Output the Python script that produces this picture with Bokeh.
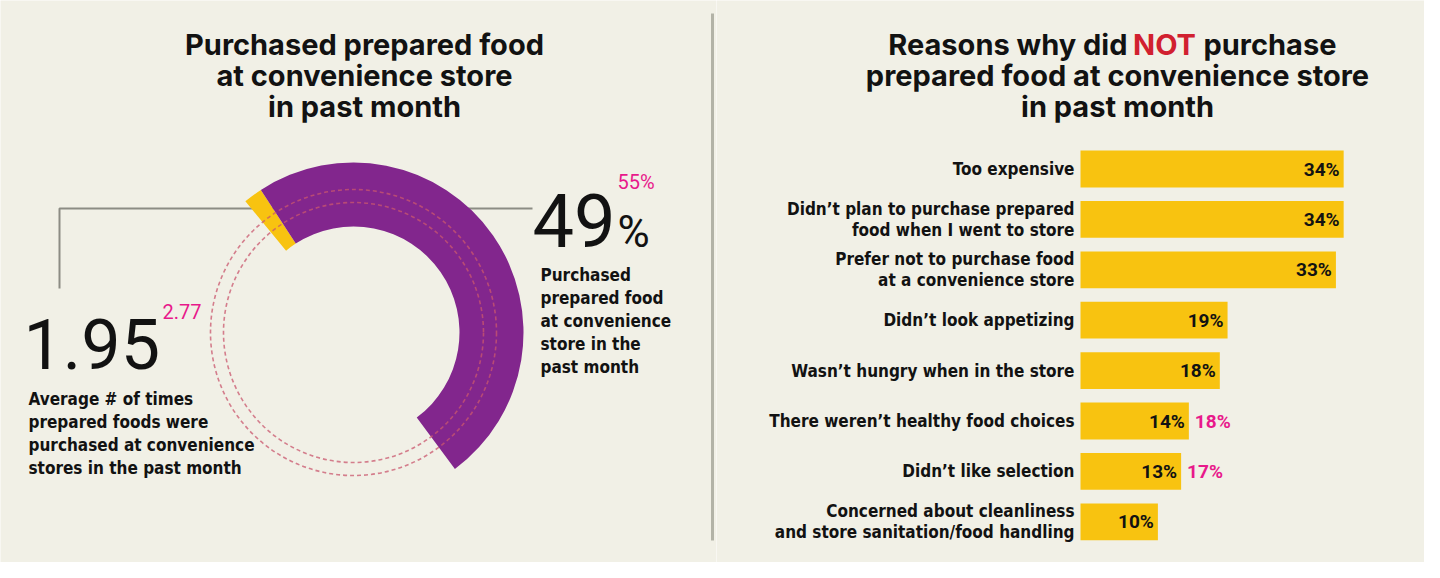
import math
from bokeh.plotting import figure
from bokeh.models import Range1d, ColumnDataSource
from bokeh.layouts import row
from bokeh.core.properties import value
from bokeh.embed import file_html
from bokeh.resources import INLINE

# ---------------- data ----------------
purchased_pct = 49
purchased_pct_prev = 55
other_pct = 1.8          # small yellow segment of the ring
avg_times = 1.95
avg_times_prev = 2.77

left_title = ["Purchased prepared food", "at convenience store", "in past month"]
pct_caption = ["Purchased", "prepared food", "at convenience", "store in the", "past month"]
avg_caption = ["Average # of times", "prepared foods were",
               "purchased at convenience", "stores in the past month"]

right_title_pre = "Reasons why did"
right_title_hl = "NOT"
right_title_post = "purchase"
right_title_rest = ["prepared food at convenience store", "in past month"]

reasons = [
    "Too expensive",
    "Didn’t plan to purchase prepared\nfood when I went to store",
    "Prefer not to purchase food\nat a convenience store",
    "Didn’t look appetizing",
    "Wasn’t hungry when in the store",
    "There weren’t healthy food choices",
    "Didn’t like selection",
    "Concerned about cleanliness\nand store sanitation/food handling",
]
reason_pct = [34, 34, 33, 19, 18, 14, 13, 10]
reason_pct_prev = [None, None, None, None, None, 18, 17, None]

# ---------------- style ----------------
BG = "#f1f0e6"
PURPLE = "#82268d"
YELLOW = "#f8c310"
PINK = "#e8198b"
RED = "#d1202f"
INK = "#121212"
GRAY = "#8c8c84"
COND = "DejaVu Sans Condensed, DejaVu Sans, sans-serif"
HEAVY = "Inter, Roboto, sans-serif"
NUMF = "Roboto, Liberation Sans, sans-serif"

H = 562
W_L = 716
W_R = 708


def base_fig(w, xr, yr):
    f = figure(width=w, height=H, x_range=xr, y_range=yr, output_backend="svg",
               toolbar_location=None, x_axis_location=None, y_axis_location=None,
               min_border=0, background_fill_color=BG, border_fill_color=BG,
               outline_line_color=None)
    f.xgrid.visible = False
    f.ygrid.visible = False
    return f


# ================= left panel (pixel-like coordinates) =================
L = base_fig(W_L, Range1d(0, W_L), Range1d(0, H))


def Y(py):
    return H - py


mid = dict(text_baseline="middle")

# title
L.text(x=[364] * len(left_title), y=[Y(44 + 31 * j) for j in range(len(left_title))],
       text=left_title, text_align="center", text_font=value(HEAVY), text_font_style="bold",
       text_font_size=value("29px"), text_color=INK, **mid)

# divider
L.line(x=[712, 712], y=[Y(13), Y(540)], line_color="#b3b3a7", line_width=3)

# connector line (behind ring)
L.line(x=[59, 59, 532], y=[Y(288), Y(208), Y(208)], line_color=GRAY, line_width=2)

# ring
cx, cy = 353, Y(332)
a0 = 129.5
a1 = a0 - other_pct * 3.6
a2 = a1 - purchased_pct * 3.6
L.annular_wedge(x=[cx], y=[cy], inner_radius=106, outer_radius=170,
                start_angle=math.radians(a0), end_angle=math.radians(a1),
                direction="clock", fill_color=YELLOW, line_color=None)
L.annular_wedge(x=[cx], y=[cy], inner_radius=106, outer_radius=170,
                start_angle=math.radians(a1), end_angle=math.radians(a2),
                direction="clock", fill_color=PURPLE, line_color=None)
L.circle(x=[cx, cx], y=[cy, cy], radius=[143, 130], fill_color=None,
         line_color="#c9576d", line_dash="4 3", line_width=1.6, line_alpha=0.75)

# 49 %
L.text(x=[532], y=[Y(220)], text=[f"{purchased_pct}"], text_align="left",
       text_font=value(NUMF), text_font_size=value("74px"), text_color=INK, **mid)
L.text(x=[617], y=[Y(231)], text=["%"], text_align="left",
       text_font=value(NUMF), text_font_size=value("44px"), text_color=INK, **mid)
L.text(x=[617], y=[Y(181)], text=[f"{purchased_pct_prev}%"], text_align="left",
       text_font=value(NUMF), text_font_size=value("20px"), text_color=PINK, **mid)
L.text(x=[540] * len(pct_caption), y=[Y(274 + 23 * j) for j in range(len(pct_caption))],
       text=pct_caption, text_align="left", text_font=value(COND), text_font_style="bold",
       text_font_size=value("17px"), text_color=INK, **mid)

# 1.95
L.text(x=[23], y=[Y(343)], text=[f"{avg_times:.2f}"], text_align="left",
       text_font=value(NUMF), text_font_size=value("70px"), text_color=INK, **mid)
L.text(x=[162], y=[Y(311)], text=[f"{avg_times_prev:.2f}"], text_align="left",
       text_font=value(NUMF), text_font_size=value("20px"), text_color=PINK, **mid)
L.text(x=[28] * len(avg_caption), y=[Y(398 + 23 * j) for j in range(len(avg_caption))],
       text=avg_caption, text_align="left", text_font=value(COND), text_font_style="bold",
       text_font_size=value("17px"), text_color=INK, **mid)

# ================= right panel (bar chart) =================
PX = 7.74            # pixels per percentage point
ZERO = 1080 - W_L    # x pixel of 0% inside the right figure
STEP = 50.4          # pixels between bars
FIRST = 168.5        # y pixel (from top) of first bar centre
xr = Range1d(-ZERO / PX, (W_R - ZERO) / PX)
yr = Range1d((H - FIRST) / STEP, -FIRST / STEP)
R = base_fig(W_R, xr, yr)


def rx(page_x):
    return (page_x - (W_L + ZERO)) / PX


def ry(page_y):
    return (page_y - FIRST) / STEP


idx = list(range(len(reasons)))
src = ColumnDataSource(dict(y=idx, v=reason_pct, lab=[f"{v}%" for v in reason_pct]))
R.hbar(y="y", left=0, right="v", height=0.73, source=src, fill_color=YELLOW, line_color=None)
R.text(x="v", y="y", text="lab", source=src, x_offset=-4, text_align="right",
       text_font=value(NUMF), text_font_style="bold",
       text_font_size=value("19px"), text_color=INK, **mid)

pv = [(i, v, p) for i, v, p in zip(idx, reason_pct, reason_pct_prev) if p is not None]
R.text(x=[v for _, v, _ in pv], y=[i for i, _, _ in pv], text=[f"{p}%" for _, _, p in pv],
       x_offset=6, text_align="left", text_font=value(NUMF),
       text_font_style="bold", text_font_size=value("19px"), text_color=PINK, **mid)

lx, ly, lt = [], [], []
for i, r in enumerate(reasons):
    parts = r.split("\n")
    n = len(parts)
    for j, t in enumerate(parts):
        lx.append(0)
        ly.append(i + (j - (n - 1) / 2) * 21 / STEP)
        lt.append(t)
R.text(x=lx, y=ly, text=lt, x_offset=-6, text_align="right",
       text_font=value(COND), text_font_style="bold", text_font_size=value("17px"),
       text_color=INK, **mid)

# right title
tkw = dict(text_baseline="middle", text_font=value(HEAVY), text_font_style="bold",
           text_font_size=value("29px"))
R.text(x=[rx(1127)], y=[ry(44)], text=[right_title_pre], text_align="right", text_color=INK, **tkw)
R.text(x=[rx(1164)], y=[ry(44)], text=[right_title_hl], text_align="center", text_color=RED, **tkw)
R.text(x=[rx(1203)], y=[ry(44)], text=[right_title_post], text_align="left", text_color=INK, **tkw)
R.text(x=[rx(1117)] * 2, y=[ry(75), ry(106)], text=right_title_rest, text_align="center",
       text_color=INK, **tkw)

p = row(L, R)
open("out.html", "w").write(file_html(p, INLINE))
